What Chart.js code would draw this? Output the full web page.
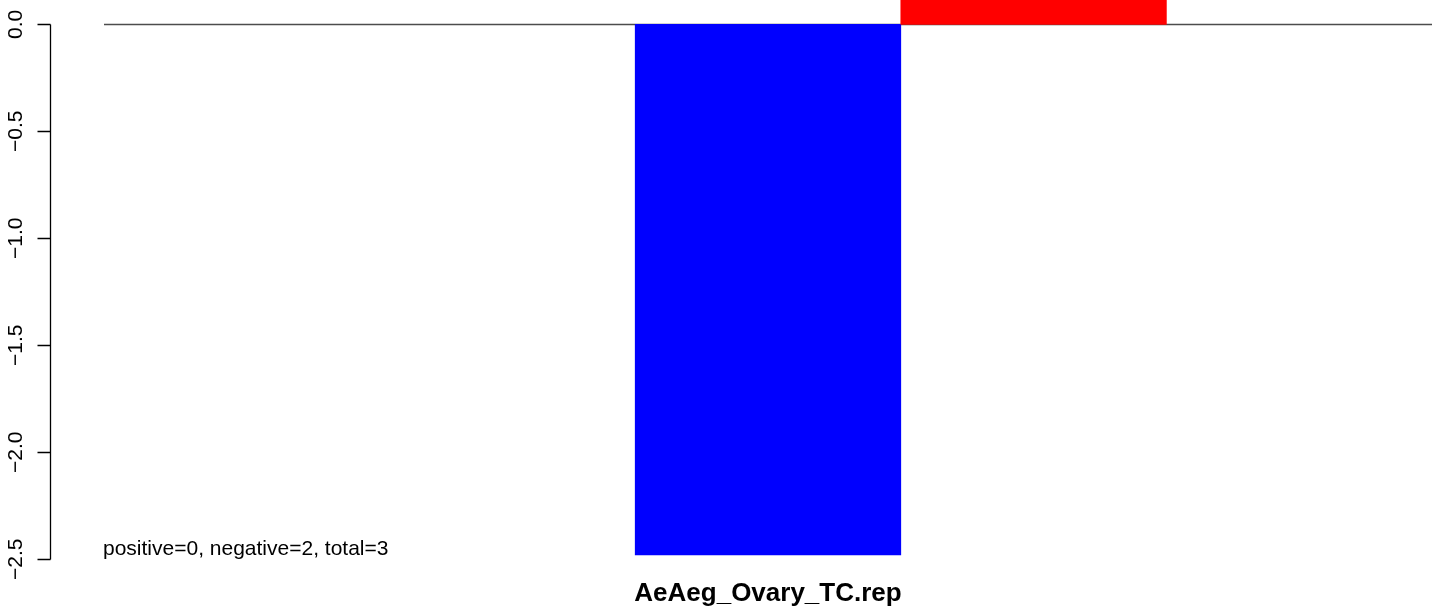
<!DOCTYPE html>
<html>
<head>
<meta charset="utf-8">
<script src="https://cdn.jsdelivr.net/npm/chart.js@4.4.0/dist/chart.umd.min.js"></script>
<style>
  html, body { margin: 0; padding: 0; background: #fff; }
  #wrap { width: 1444px; height: 614px; }
</style>
</head>
<body>
<div id="wrap"><canvas id="chart" width="1444" height="614"></canvas></div>
<script>
// data (empty slots have no bar)
const categories = ['', '', 'AeAeg_Ovary_TC.rep', '', ''];
const values = [null, null, -2.48, 0.6, null];
const yTicks = [0, -0.5, -1.0, -1.5, -2.0, -2.5];
const yTickLabels = ['0.0', '\u22120.5', '\u22121.0', '\u22121.5', '\u22122.0', '\u22122.5'];
const xTitle = 'AeAeg_Ovary_TC.rep';
const note = 'positive=0, negative=2, total=3';

const FONT = '"Liberation Sans", Arial, Helvetica, sans-serif';

// R-like decorations: zero line, left axis, rotated tick labels, note text
const rDecor = {
    id: 'rDecor',
    beforeDatasetsDraw(chart) {
        const ctx = chart.ctx;
        const y = chart.scales.y;
        const area = chart.chartArea;
        const y0 = Math.round(y.getPixelForValue(0)) + 0.5;
        ctx.save();
        ctx.strokeStyle = '#4d4d4d';
        ctx.lineWidth = 1.3;
        ctx.beginPath();
        ctx.moveTo(area.left, y0);
        ctx.lineTo(area.right, y0);
        ctx.stroke();
        ctx.restore();
    },
    afterDraw(chart) {
        const ctx = chart.ctx;
        const y = chart.scales.y;
        const area = chart.chartArea;
        const axisX = 50.5;
        const top = y.getPixelForValue(yTicks[0]);
        const bottom = y.getPixelForValue(yTicks[yTicks.length - 1]);
        ctx.save();
        ctx.strokeStyle = '#000';
        ctx.lineWidth = 1.3;
        ctx.beginPath();
        ctx.moveTo(axisX, Math.round(top) + 0.5);
        ctx.lineTo(axisX, Math.round(bottom) + 0.5);
        yTicks.forEach(v => {
            const py = Math.round(y.getPixelForValue(v)) + 0.5;
            ctx.moveTo(axisX - 13, py);
            ctx.lineTo(axisX, py);
        });
        ctx.stroke();

        ctx.fillStyle = '#000';
        ctx.font = '21px ' + FONT;
        ctx.textAlign = 'center';
        ctx.textBaseline = 'alphabetic';
        yTicks.forEach((v, i) => {
            const py = y.getPixelForValue(v);
            ctx.save();
            ctx.translate(21.5, py);
            ctx.rotate(-Math.PI / 2);
            ctx.fillText(yTickLabels[i], 0, 0);
            ctx.restore();
        });

        ctx.textAlign = 'left';
        ctx.fillText(note, area.left - 1, 555);
        ctx.restore();
    }
};

new Chart(document.getElementById('chart'), {
    type: 'bar',
    data: {
        labels: categories,
        datasets: [{
            data: values,
            backgroundColor: values.map(v => v < 0 ? '#0000ff' : '#ff0000'),
            borderWidth: 0,
            barPercentage: 1,
            categoryPercentage: 1
        }]
    },
    options: {
        responsive: false,
        animation: false,
        events: [],
        layout: { padding: { left: 0, right: 12, top: 0, bottom: 0 } },
        plugins: {
            legend: { display: false },
            tooltip: { enabled: false }
        },
        scales: {
            x: {
                grid: { display: false },
                border: { display: false },
                ticks: { display: false },
                title: {
                    display: true,
                    text: xTitle,
                    color: '#000',
                    font: { family: FONT, size: 26, weight: 'bold' },
                    padding: { top: 0, bottom: 5 }
                },
                afterFit(scale) { scale.height = 54.7; }
            },
            y: {
                min: -2.5,
                max: 0.1136,
                grid: { display: false },
                border: { display: false },
                ticks: { display: false },
                afterFit(scale) { scale.width = 104; }
            }
        }
    },
    plugins: [rDecor]
});
</script>
</body>
</html>
